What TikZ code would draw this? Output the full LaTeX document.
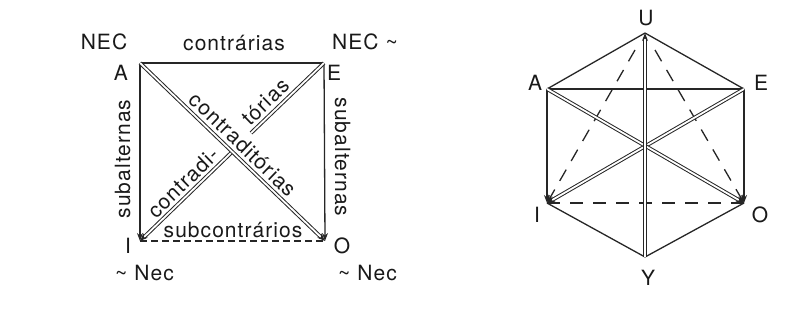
\documentclass[tikz,border=0pt]{standalone}
\usepackage{fontspec}
\setmainfont{TeX Gyre Heros}[LetterSpace=5]
\usetikzlibrary{arrows.meta}
\begin{document}
\begin{tikzpicture}[x=1pt,y=-1pt,
  lbl/.style={font=\fontsize{21}{23}\selectfont, inner sep=0pt, text=black!90},
  ln/.style={line width=1.3pt, draw=black!85},
  dbl/.style={line width=1pt, draw=black!85, double=white, double distance=1.8pt},
  tip/.style={-{Stealth[length=8pt,width=6pt]}},
  dashL/.style={dash pattern=on 7pt off 4pt},
  dashR/.style={dash pattern=on 13pt off 10pt},
]
\useasboundingbox (0,0) rectangle (810,325);
% ---------- left square ----------
\coordinate (A) at (140,63);
\coordinate (E) at (324,63);
\coordinate (I) at (140,241);
\coordinate (O) at (325,241);
\coordinate (M) at (232,152);
\coordinate (M2) at (251,133);
\draw[ln] (A) -- (E);
\draw[ln,tip] (A) -- (I);
\draw[ln,tip] (E) -- (O);
\draw[ln,dashL] (I) -- (O);
\draw[dbl,tip] (M) -- (I);
\draw[dbl] (E) -- (M2);
\draw[dbl,tip] (A) -- (O);
\path (I) -- (E)
  node[lbl, pos=0.28, sloped, above=4pt] (t1) {contradi-}
  node[lbl, pos=0.73, sloped, above=5pt] (t2) {tórias};
\path (A) -- (O)
  node[lbl, pos=0.51, sloped, above=5pt] (t3) {contraditórias};
\node[lbl, anchor=base] (nec1) at (104,49) {NEC};
\node[lbl, anchor=base] (contr) at (234,50) {contrárias};
\node[lbl, anchor=base west] (nec2) at (332,49) {NEC \textasciitilde};
\node[lbl, anchor=base] (lA) at (121,80) {A};
\node[lbl, anchor=base] (lE) at (334,80) {E};
\node[lbl, anchor=base] (lI) at (128,253) {I};
\node[lbl, anchor=base] (lO) at (342,253) {O};
\node[lbl, anchor=base west] (nn1) at (115,280) {\textasciitilde{} Nec};
\node[lbl, anchor=base west] (nn2) at (338,280) {\textasciitilde{} Nec};
\node[lbl, anchor=base, rotate=90] (sub1) at (130,159) {subalternas};
\node[lbl, anchor=base, rotate=-90] (sub2) at (335,157) {subalternas};
\node[lbl, anchor=base] (subc) at (233,237) {subcontrários};
% ---------- right hexagon ----------
\coordinate (U) at (645,33);
\coordinate (HA) at (547,89);
\coordinate (HE) at (744,89);
\coordinate (HI) at (547,203);
\coordinate (HO) at (744,203);
\coordinate (Y) at (645,257);
\coordinate (U1) at (635,50);
\coordinate (U2) at (655,50);
\draw[ln] (U) -- (HA);
\draw[ln] (U) -- (HE);
\draw[ln] (HA) -- (HE);
\draw[ln] (HI) -- (Y);
\draw[ln] (HO) -- (Y);
\draw[ln,tip] (HA) -- (HI);
\draw[ln,tip] (HE) -- (HO);
\draw[ln,dashR] (HI) -- (HO);
\draw[ln,dashR,tip] (U1) -- (HI);
\draw[ln,dashR,tip] (U2) -- (HO);
\draw[dbl,tip] (HE) -- (HI);
\draw[dbl,tip] (HA) -- (HO);
\draw[dbl,tip] (Y) -- (U);
\node[lbl, anchor=base] (lU) at (646,25) {U};
\node[lbl, anchor=base] (lHA) at (535,90) {A};
\node[lbl, anchor=base] (lHE) at (761,90) {E};
\node[lbl, anchor=base] (lHI) at (537,222) {I};
\node[lbl, anchor=base] (lHO) at (760,222) {O};
\node[lbl, anchor=base] (lY) at (648,285) {Y};
\end{tikzpicture}
\end{document}
